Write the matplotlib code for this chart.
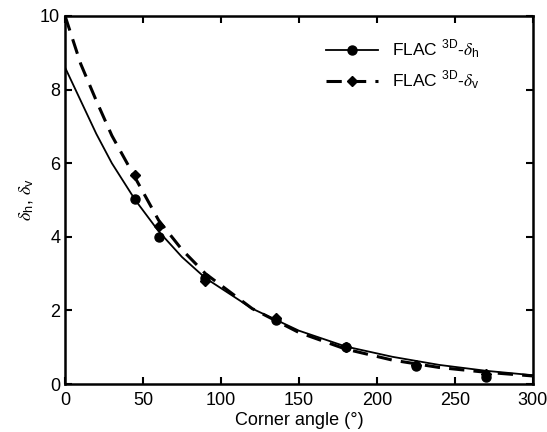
import matplotlib
matplotlib.use('Agg')
import matplotlib.pyplot as plt
from matplotlib.lines import Line2D

plt.rcParams['font.family'] = 'Liberation Sans'
plt.rcParams['mathtext.fontset'] = 'stix'

# fitted curves
curve_x = [0, 20, 30, 45, 60, 75, 90, 120, 150, 180, 210, 240, 270, 300]
curve_h = [8.6, 6.8, 6.0, 5.0, 4.15, 3.45, 2.88, 2.05, 1.45, 1.02, 0.74, 0.52, 0.36, 0.24]
curve_vx = [0, 10, 20, 30, 45, 60, 75, 90, 120, 150, 180, 210, 240, 270, 300]
curve_v = [10.0, 8.7, 7.7, 6.75, 5.6, 4.45, 3.65, 3.0, 2.05, 1.4, 0.95, 0.65, 0.45, 0.32, 0.22]

# FLAC3D points
pts_x = [45, 60, 90, 135, 180, 225, 270]
pts_h = [5.03, 4.0, 2.88, 1.75, 1.0, 0.48, 0.2]
pts_v = [5.68, 4.3, 2.8, 1.8, 1.01, 0.52, 0.26]

fig = plt.figure(figsize=(5.47, 4.32), dpi=100)
ax = fig.add_axes([0.119, 0.111, 0.855, 0.852])

ax.plot(curve_x, curve_h, color='black', lw=1.3)
ax.plot(curve_vx, curve_v, color='black', lw=2.2, ls=(0, (5, 3)))
ax.plot(pts_x, pts_h, 'o', color='black', ms=6.5, ls='none')
ax.plot(pts_x, pts_v, 'D', color='black', ms=5.5, ls='none')

handles = [
    Line2D([], [], color='black', lw=1.3, marker='o', ms=6.5),
    Line2D([], [], color='black', lw=2.2, ls=(0, (5, 3)), marker='D', ms=5.5),
]
labels = [r'FLAC $^{\mathregular{3D}}$-$\delta_{\mathregular{h}}$',
          r'FLAC $^{\mathregular{3D}}$-$\delta_{\mathregular{v}}$']
ax.legend(handles, labels, loc='upper right', frameon=False, fontsize=12.5,
          handlelength=3, bbox_to_anchor=(0.92, 0.98))

ax.set_xlim(0, 300)
ax.set_ylim(0, 10)
ax.set_xticks(range(0, 301, 50))
ax.set_yticks(range(0, 11, 2))
ax.tick_params(direction='in', top=True, right=True, labelsize=13, width=1.5, length=5)
ax.tick_params(axis='x', pad=6)
for s in ax.spines.values():
    s.set_linewidth(1.8)

ax.set_xlabel('Corner angle (°)', fontsize=13, labelpad=2)
ax.set_ylabel(r'$\delta_{\mathregular{h}}$, $\delta_{\mathregular{v}}$', fontsize=13)

fig.savefig('out.png', dpi=100)
